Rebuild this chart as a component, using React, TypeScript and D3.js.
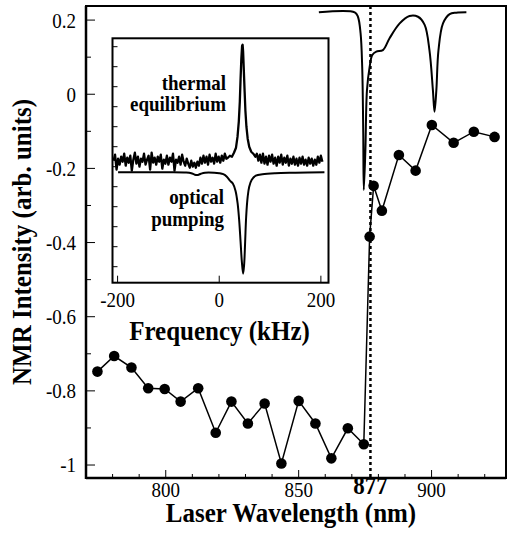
import React from "react";
import * as d3 from "d3";

// main plot: NMR signal vs laser wavelength
const wavelengths = [774.3, 780.6, 787.1, 793.4, 799.6, 805.6, 812.2, 818.8, 824.7, 830.9, 837.2, 843.5, 850.0, 856.3, 862.3, 868.5, 874.5, 876.7, 878.2, 881.3, 887.7, 894.0, 900.1, 908.3, 915.9, 923.7];
const nmrIntensity = [-0.748, -0.706, -0.737, -0.793, -0.795, -0.829, -0.793, -0.913, -0.829, -0.888, -0.834, -0.996, -0.827, -0.888, -0.982, -0.901, -0.944, -0.384, -0.247, -0.314, -0.164, -0.206, -0.083, -0.131, -0.101, -0.115];

// absorption trace along the top
const absorbWl = [857.6, 871.1, 872.3, 873.3, 873.9, 874.3, 874.5, 875.1, 875.7, 876.7, 877.7, 879.2, 881.7, 884.2, 888.0, 891.7, 894.9, 897.4, 899.2, 900.5, 901.1, 901.8, 902.6, 904.3, 906.8, 909.3, 913.1];
const absorbVal = [0.221, 0.221, 0.209, 0.164, 0.074, -0.106, -0.258, -0.151, 0.011, 0.074, 0.106, 0.115, 0.119, 0.151, 0.191, 0.211, 0.209, 0.187, 0.119, 0.011, -0.047, 0.011, 0.119, 0.191, 0.216, 0.220, 0.221];

const resonanceWl = 877;

const xTicks = [780, 790, 800, 810, 820, 830, 840, 850, 860, 870, 880, 890, 900, 910, 920];
const xLabels = [800, 850, 900];
const yTicks = [-1, -0.9, -0.8, -0.7, -0.6, -0.5, -0.4, -0.3, -0.2, -0.1, 0, 0.1, 0.2];
const yLabels = [-1, -0.8, -0.6, -0.4, -0.2, 0, 0.2];

// inset: NMR spectra (kHz)
const thermalFreq = [-208, -205, -202, -199, -196, -193, -190, -187, -184, -181, -178, -175, -172, -169, -166, -163, -160, -157, -154, -151, -148, -145, -142, -139, -136, -133, -130, -127, -124, -121, -118, -115, -112, -109, -106, -103, -100, -97, -94, -91, -88, -85, -82, -79, -76, -73, -70, -67, -64, -61, -58, -55, -52, -49, -46, -43, -40, -37, -34, -31, -28, -25, -22, -19, -16, -13, -10, -7, -4, -1, 2, 5, 8, 11, 14, 17, 21, 25, 29, 33, 36, 38.5, 40.5, 42, 43.5, 45, 46, 47, 48.5, 50, 51.5, 53.5, 56, 59, 63, 67, 71, 74, 77, 80, 83, 86, 89, 92, 95, 98, 101, 104, 107, 110, 113, 116, 119, 122, 125, 128, 131, 134, 137, 140, 143, 146, 149, 152, 155, 158, 161, 164, 167, 170, 173, 176, 179, 182, 185, 188, 191, 194, 197, 200, 203];
const thermalVal = [0.06, 0.12, -0.03, 0.08, 0.02, 0.10, 0.05, 0.13, 0.01, 0.09, 0.04, 0.11, -0.04, 0.07, 0.14, 0.03, 0.10, 0.00, 0.08, 0.05, 0.13, 0.02, 0.07, 0.11, -0.03, 0.14, 0.04, 0.09, 0.02, 0.10, 0.05, 0.12, -0.02, 0.07, 0.03, 0.11, 0.02, 0.09, 0.05, 0.13, -0.04, 0.07, 0.04, 0.10, 0.02, 0.12, 0.05, 0.01, 0.08, 0.03, -0.01, 0.06, 0.00, 0.04, -0.01, 0.05, 0.01, 0.09, 0.03, 0.11, 0.04, 0.10, 0.02, 0.12, 0.05, 0.09, 0.03, 0.13, 0.05, 0.10, 0.04, 0.11, 0.06, 0.13, 0.08, 0.09, 0.11, 0.10, 0.14, 0.19, 0.30, 0.45, 0.65, 0.88, 1.08, 1.21, 1.22, 1.15, 0.95, 0.75, 0.56, 0.40, 0.28, 0.20, 0.15, 0.13, 0.10, 0.13, 0.06, 0.12, 0.04, 0.13, 0.03, 0.10, 0.02, 0.11, 0.05, 0.12, 0.03, 0.09, 0.01, 0.10, 0.04, 0.12, 0.02, 0.09, 0.04, 0.11, 0.01, 0.08, 0.03, 0.10, 0.02, 0.08, 0.01, 0.09, 0.03, 0.10, 0.02, 0.07, 0.01, 0.09, 0.03, 0.08, 0.01, 0.07, 0.02, 0.10, 0.04, 0.11, 0.05];

const opticalFreq = [-199, -150, -100, -65, -55, -48, -42, -36, -28, -10, 0, 8, 15, 21, 27, 32, 36, 39, 42, 44.5, 47, 49, 51, 53, 56, 59, 64, 72, 85, 110, 150, 207];
const opticalVal = [-0.055, -0.055, -0.055, -0.058, -0.065, -0.08, -0.082, -0.07, -0.06, -0.06, -0.065, -0.075, -0.10, -0.14, -0.17, -0.24, -0.36, -0.52, -0.75, -0.95, -1.07, -0.98, -0.75, -0.5, -0.3, -0.2, -0.13, -0.09, -0.075, -0.065, -0.06, -0.055];

const insetXLabels = [-200, 0, 200];
const insetYTicks = [-1, -0.8, -0.6, -0.4, -0.2, 0, 0.2, 0.4, 0.6, 0.8, 1.0, 1.2];

const W = 507;
const H = 546;
const serif = "'Liberation Serif', 'Times New Roman', serif";
const stretch = 1.12; // the scanned lettering is a bit taller than Times

function T({ x, y, children, anchor = "middle", size = 19, bold = false, rotate = 0, dy }: any) {
  return (
    <text
      transform={`translate(${x},${y}) rotate(${rotate}) scale(1,${stretch})`}
      textAnchor={anchor}
      fontSize={size}
      fontWeight={bold ? "bold" : "normal"}
      dy={dy}
    >
      {children}
    </text>
  );
}

export default function App() {
  const frame = { left: 86, right: 506, top: 6, bottom: 478 };
  const inset = { left: 112.5, right: 328.5, top: 38.3, bottom: 282.7 };

  const x = d3.scaleLinear().domain([770, 928]).range([frame.left, frame.right]);
  const y = d3.scaleLinear().domain([-1.035, 0.238]).range([frame.bottom, frame.top]);

  const ix = d3.scaleLinear().domain([-210, 215]).range([inset.left, inset.right]);
  const iy = d3.scaleLinear().domain([-1.16, 1.284]).range([inset.bottom, inset.top]);

  const mainLine = d3.line<number>().x((d, i) => x(wavelengths[i])).y(d => y(d));
  const absorbLine = d3.line<number>().x((d, i) => x(absorbWl[i])).y(d => y(d)).curve(d3.curveCatmullRom.alpha(0.5));
  const thermalLine = d3.line<number>().x((d, i) => ix(thermalFreq[i])).y(d => iy(d));
  const opticalLine = d3.line<number>().x((d, i) => ix(opticalFreq[i])).y(d => iy(d)).curve(d3.curveCatmullRom.alpha(0.5));

  const fmtY = (v: number) => (v === 0 ? "0" : String(v));

  return (
    <svg width={W} height={H} style={{ position: "absolute", left: 0, top: 0, background: "white" }} fontFamily={serif}>
      {/* frame */}
      <rect x={frame.left} y={frame.top} width={frame.right - frame.left} height={frame.bottom - frame.top} fill="none" stroke="#000" strokeWidth={2} />
      <line x1={frame.left} x2={frame.left} y1={frame.top} y2={frame.bottom + 1} stroke="#000" strokeWidth={2.5} />
      <line x1={frame.left} x2={frame.right} y1={frame.bottom} y2={frame.bottom} stroke="#000" strokeWidth={2.5} />

      {/* y ticks */}
      {yTicks.map(t => {
        const major = yLabels.some(l => Math.abs(l - t) < 1e-6);
        return <line key={t} x1={frame.left} x2={frame.left + (major ? 9 : 5)} y1={y(t)} y2={y(t)} stroke="#000" strokeWidth={1} />;
      })}
      {yLabels.map(t => (
        <T key={t} x={76} y={y(t)} dy="0.35em" anchor="end">{fmtY(t)}</T>
      ))}

      {/* x ticks */}
      {xTicks.map(t => {
        const major = xLabels.includes(t);
        return <line key={t} x1={x(t)} x2={x(t)} y1={frame.bottom} y2={frame.bottom - (major ? 8 : 4)} stroke="#000" strokeWidth={1} />;
      })}
      {xLabels.map(t => (
        <T key={t} x={x(t)} y={497}>{t}</T>
      ))}
      <T x={x(resonanceWl)} y={494} size={23} bold>{resonanceWl}</T>

      {/* axis titles */}
      <T x={291} y={522} size={25} bold>Laser Wavelength (nm)</T>
      <T x={31} y={242} size={25} bold rotate={-90}>NMR Intensity (arb. units)</T>

      {/* absorption trace */}
      <path d={absorbLine(absorbVal) || ""} fill="none" stroke="#000" strokeWidth={2} />

      {/* resonance marker */}
      <line x1={x(resonanceWl)} x2={x(resonanceWl)} y1={frame.top} y2={frame.bottom} stroke="#000" strokeWidth={2.5} strokeDasharray="3,3" />

      {/* data */}
      <path d={mainLine(nmrIntensity) || ""} fill="none" stroke="#000" strokeWidth={1.5} />
      {nmrIntensity.map((v, i) => (
        <circle key={i} cx={x(wavelengths[i])} cy={y(v)} r={5.3} fill="#000" />
      ))}

      {/* inset */}
      <rect x={inset.left} y={inset.top} width={inset.right - inset.left} height={inset.bottom - inset.top} fill="white" stroke="#000" strokeWidth={2} />
      {insetYTicks.map(t => (
        <line key={t} x1={inset.left} x2={inset.left + 5} y1={iy(t)} y2={iy(t)} stroke="#000" strokeWidth={1} />
      ))}
      {insetXLabels.map(t => (
        <g key={t}>
          <line x1={ix(t)} x2={ix(t)} y1={inset.bottom} y2={inset.bottom - 7} stroke="#000" strokeWidth={1} />
          <T x={ix(t)} y={307}>{t}</T>
        </g>
      ))}
      <T x={219.5} y={340} size={25} bold>Frequency (kHz)</T>

      <path d={opticalLine(opticalVal) || ""} fill="none" stroke="#000" strokeWidth={2} />
      <path d={thermalLine(thermalVal) || ""} fill="none" stroke="#000" strokeWidth={2.3} strokeLinejoin="round" />

      <T x={226} y={90} anchor="end" bold>thermal</T>
      <T x={226} y={111} anchor="end" bold>equilibrium</T>
      <T x={224} y={204} anchor="end" bold>optical</T>
      <T x={224} y={226} anchor="end" bold>pumping</T>
    </svg>
  );
}
